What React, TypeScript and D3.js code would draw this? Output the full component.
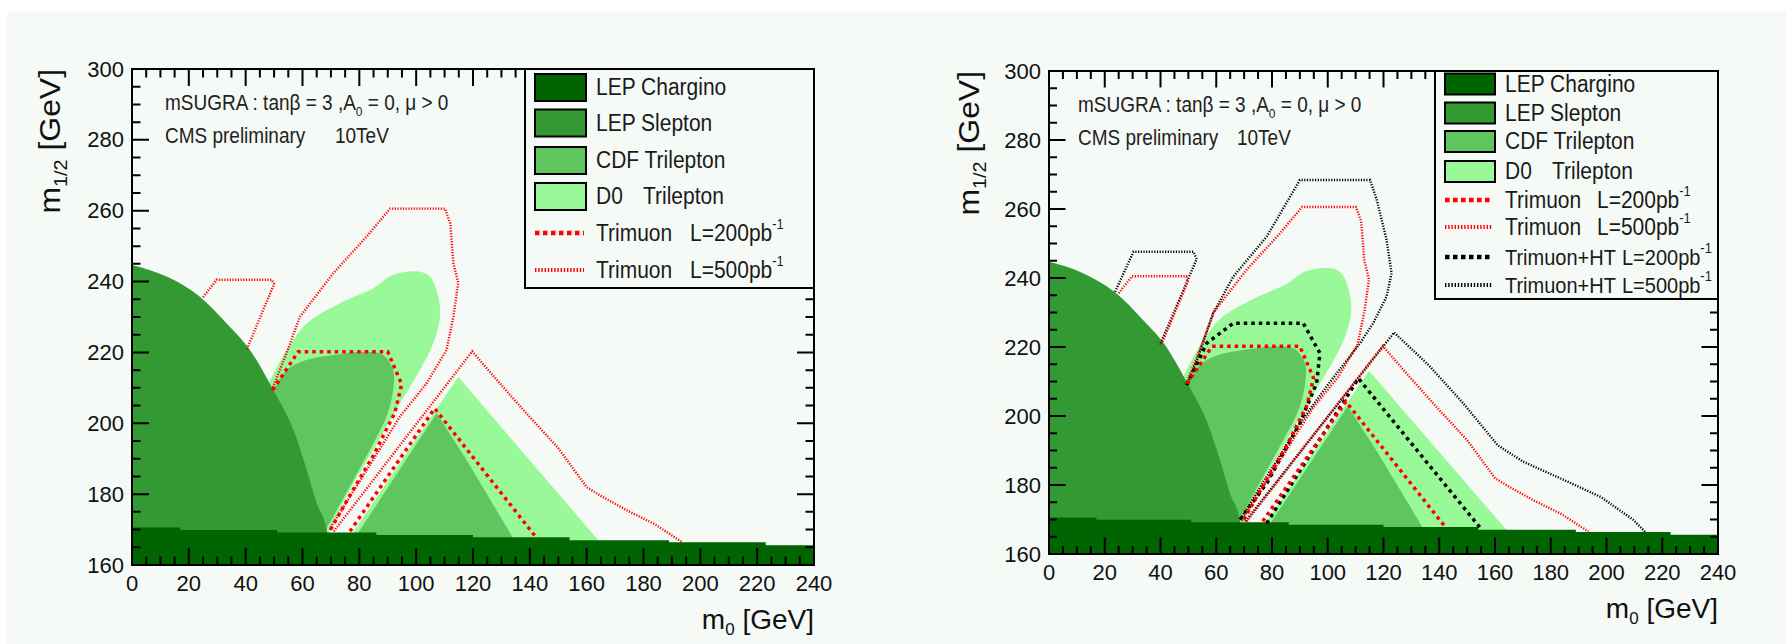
import React from 'react';
import * as d3 from 'd3';

type Pt = [number, number];

// axis ticks
const xTickValues = [0, 20, 40, 60, 80, 100, 120, 140, 160, 180, 200, 220, 240];
const yTickValues = [160, 180, 200, 220, 240, 260, 280, 300];

// LEP chargino limit: step edges in m0 and the m1/2 level of each step
const charginoEdges = [0, 17, 51, 86, 120, 154, 189, 223, 240];
const charginoLevels = [170.6, 169.9, 169.2, 168.5, 167.8, 167.0, 166.4, 165.6];

// LEP slepton limit, boundary read left to right (m0, m1/2)
const sleptonEdge: Pt[] = [
  [0, 244.7], [12.2, 241.4], [23.9, 235.7], [33.3, 228.2], [41.5, 220.7],
  [49.7, 209.4], [56.8, 198.1], [61.5, 186.8], [65, 177.4], [68.5, 169.9], [70, 158],
];
const cdfLobe: Pt[] = [
  [42, 200], [49.7, 209.4], [54.4, 215], [61.5, 217.9], [70.8, 219.3], [82.6, 220.2],
  [88.4, 219.3], [91.9, 215], [91.9, 209.4], [89.6, 201.9], [84.9, 194.3], [77.9, 184],
  [70.8, 173.6], [68.5, 169.9], [68.5, 158], [48, 158],
];
const cdfWedge: Pt[] = [[70.5, 158], [107.2, 202.8], [117.8, 189.6], [134.2, 167.5], [141.5, 158]];
const d0Lobe: Pt[] = [
  [40, 200], [48, 211.3], [54.4, 220.7], [61.5, 228.2], [73.2, 233.9], [84.9, 238.1],
  [91.9, 241.9], [101.3, 242.8], [104.9, 241.4], [107.8, 235.7], [108.4, 230.1], [106, 222.6],
  [101.3, 215], [94.3, 205.6], [84.9, 192.5], [76.7, 181.2], [70.8, 171.8], [69.6, 169.5],
  [69.6, 158], [45, 158],
];
const d0Wedge: Pt[] = [[68.3, 158], [114.8, 213.1], [164.1, 167], [173.7, 158]];

// Trimuon reach contours
const tri200Lobe: Pt[] = [
  [49.5, 209.4], [58.5, 220.2], [90, 220.2], [94.9, 211], [92.5, 203], [85, 191], [78, 181.5], [69.7, 169.8],
];
const tri200Wedge: Pt[] = [[76.7, 169.5], [106.5, 204.2], [142.2, 167.8]];
const tri500Small: Pt[] = [[25, 235.6], [29.8, 240.5], [49.2, 240.5], [50, 239.3], [40.3, 220.7]];
const tri500Lobe: Pt[] = [
  [49.2, 209.4], [54, 219], [59.1, 230.1], [70.8, 242.3], [82.6, 252.7], [90.8, 260.6],
  [110.1, 260.6], [112, 256.4], [113.1, 245.2], [114.8, 239.6], [113.1, 230.1], [110.7, 220.7],
  [103.7, 211.3], [94.3, 201.9], [82.6, 186.8], [70.8, 171.8], [69.6, 169.5],
];
const tri500Wedge: Pt[] = [
  [71, 169.5], [119.7, 220.3], [127, 213.5], [138, 203.5], [150, 193], [160, 182],
  [165, 179.5], [174, 175.5], [184, 171.5], [193.5, 166.5],
];

// Trimuon+HT reach contours
const ht200Lobe: Pt[] = [
  [49.4, 209], [56.6, 221.1], [66.1, 226.9], [91.2, 226.9], [97.2, 218.2], [96, 209.5],
  [90, 197.9], [78.1, 180.5], [68.5, 169.9],
];
const ht200Wedge: Pt[] = [[78.1, 168.9], [111, 210.9], [155, 167.3]];
const ht500Small: Pt[] = [[23.7, 236], [30.3, 247.6], [51.8, 247.6], [53, 245.5], [39.8, 220.6]];
const ht500Lobe: Pt[] = [
  [49.4, 209], [53, 216], [58.9, 229.8], [66.1, 240.4], [78.1, 252], [90, 268.4],
  [115.2, 268.4], [117.6, 262.6], [121.1, 251], [122.9, 241.4], [121.1, 234.6], [116.3, 226.9],
  [111.6, 221.1], [100, 209], [90, 197.9], [78.1, 182.4], [68.5, 169.9],
];
const ht500Wedge: Pt[] = [
  [70.5, 169.5], [123.8, 224.2], [136.5, 214.5], [148.5, 203.8], [161, 191.5], [170, 186.8],
  [186, 181], [198, 176.5], [209.6, 169.9], [214, 166.3],
];

const C_CHARGINO = '#006400';
const C_SLEPTON = '#339933';
const C_CDF = '#5fc65f';
const C_D0 = '#99f999';
const BG = '#f6faf6';
const FONT = 'Liberation Sans, Arial, Helvetica, sans-serif';

const thick = { w: 3.5, dash: '3.5,4' };
const fine = { w: 2.4, dash: '1.2,1.5' };

interface LegendRow {
  kind: 'fill' | 'line';
  color: string;
  label: string;
  lumi?: string;
  style?: { w: number; dash: string };
}

interface PanelCfg {
  id: string;
  left: number; top: number; right: number; bottom: number;
  major: number; minor: number;
  yTitleX: number;
  infoDx: number; tevDx: number;
  legX: number; legBottom: number;
  swX0: number; swX1: number; swH: number;
  textX: number; lumiX: number; htLumiX: number; trilepX: number;
  rows: number[];
  entries: LegendRow[];
  withHT: boolean;
}

const baseEntries: LegendRow[] = [
  { kind: 'fill', color: C_CHARGINO, label: 'LEP Chargino' },
  { kind: 'fill', color: C_SLEPTON, label: 'LEP Slepton' },
  { kind: 'fill', color: C_CDF, label: 'CDF Trilepton' },
  { kind: 'fill', color: C_D0, label: 'D0' },
  { kind: 'line', color: '#ff0000', label: 'Trimuon', lumi: '200', style: { w: 4.5, dash: '4.5,3.5' } },
  { kind: 'line', color: '#ff0000', label: 'Trimuon', lumi: '500', style: { w: 4, dash: '1.4,1.8' } },
];

const panels: PanelCfg[] = [
  {
    id: 'a', left: 132, top: 69, right: 814, bottom: 565, major: 17, minor: 8.5,
    yTitleX: 60, infoDx: 33, tevDx: 203,
    legX: 525, legBottom: 288, swX0: 535, swX1: 586, swH: 27,
    textX: 596, lumiX: 690, htLumiX: 0, trilepX: 643,
    rows: [87.5, 123, 160.5, 196.5, 233, 270],
    entries: baseEntries, withHT: false,
  },
  {
    id: 'b', left: 1049, top: 71, right: 1718, bottom: 554, major: 16.5, minor: 8,
    yTitleX: 979, infoDx: 29, tevDx: 188,
    legX: 1435, legBottom: 299, swX0: 1445, swX1: 1495, swH: 21,
    textX: 1505, lumiX: 1597, htLumiX: 1622, trilepX: 1552,
    rows: [84, 113, 141.5, 171.5, 200, 227, 257, 285],
    entries: [
      ...baseEntries,
      { kind: 'line', color: '#000', label: 'Trimuon+HT', lumi: '200', style: { w: 4.5, dash: '4.5,3.5' } },
      { kind: 'line', color: '#000', label: 'Trimuon+HT', lumi: '500', style: { w: 4, dash: '1.4,1.8' } },
    ],
    withHT: true,
  },
];

// text that is a little taller than wide, like the stretched original
const Tall: React.FC<{ x: number; y: number; size: number; fill?: string; children: React.ReactNode }> =
  ({ x, y, size, fill = '#1a1a1a', children }) => (
    <text transform={`translate(${x},${y}) scale(1,1.12)`} dominantBaseline="central" fontSize={size} fill={fill}>
      {children}
    </text>
  );

const Panel: React.FC<{ cfg: PanelCfg }> = ({ cfg }) => {
  const x = d3.scaleLinear().domain([0, 240]).range([cfg.left, cfg.right]);
  const y = d3.scaleLinear().domain([160, 300]).range([cfg.bottom, cfg.top]);
  const line = d3.line<Pt>().x(d => x(d[0])).y(d => y(d[1]));
  const smooth = d3.line<Pt>().x(d => x(d[0])).y(d => y(d[1])).curve(d3.curveCatmullRom.alpha(0.5));
  const poly = (pts: Pt[]) => (line(pts) || '') + 'Z';
  const blob = (pts: Pt[]) => (smooth(pts) || '') + 'Z';

  const charginoPts: Pt[] = [];
  charginoLevels.forEach((lv, i) => {
    charginoPts.push([charginoEdges[i], lv], [charginoEdges[i + 1], lv]);
  });
  charginoPts.push([240, 158], [0, 158]);

  const sleptonPath = `M${x(0)},${y(158)}L${x(0)},${y(sleptonEdge[0][1])}` +
    (d3.line<Pt>().x(d => x(d[0])).y(d => y(d[1])).curve(d3.curveMonotoneX)(sleptonEdge) || '').replace(/^M/, 'L') + 'Z';

  const xMinor = d3.range(0, 240.01, 5);
  const yMinor = d3.range(160, 300.01, 5);
  const clip = `clip-${cfg.id}`;

  const contour = (pts: Pt[], color: string, st: { w: number; dash: string }, k: string) => (
    <path key={k} d={line(pts) || ''} fill="none" stroke={color} strokeWidth={st.w}
      strokeDasharray={st.dash} />
  );

  const tickPath: string[] = [];
  xMinor.forEach(v => {
    const len = v % 20 === 0 ? cfg.major : cfg.minor;
    tickPath.push(`M${x(v)},${cfg.bottom}v${-len}`, `M${x(v)},${cfg.top}v${len}`);
  });
  yMinor.forEach(v => {
    const len = v % 20 === 0 ? cfg.major : cfg.minor;
    tickPath.push(`M${cfg.left},${y(v)}h${len}`, `M${cfg.right},${y(v)}h${-len}`);
  });

  return (
    <g fontFamily={FONT}>
      <defs>
        <clipPath id={clip}>
          <rect x={cfg.left} y={cfg.top} width={cfg.right - cfg.left} height={cfg.bottom - cfg.top} />
        </clipPath>
      </defs>
      <g clipPath={`url(#${clip})`}>
        <path d={blob(d0Lobe)} fill={C_D0} />
        <path d={poly(d0Wedge)} fill={C_D0} />
        <path d={blob(cdfLobe)} fill={C_CDF} />
        <path d={poly(cdfWedge)} fill={C_CDF} />
        <path d={sleptonPath} fill={C_SLEPTON} />
        <path d={poly(charginoPts)} fill={C_CHARGINO} />
        {cfg.withHT && [
          contour(ht500Small, '#000', fine, 'h1'),
          contour(ht500Lobe, '#000', fine, 'h2'),
          contour(ht500Wedge, '#000', fine, 'h3'),
          contour(ht200Lobe, '#000', thick, 'h4'),
          contour(ht200Wedge, '#000', thick, 'h5'),
        ]}
        {contour(tri500Small, '#ff0000', fine, 'r1')}
        {contour(tri500Lobe, '#ff0000', fine, 'r2')}
        {contour(tri500Wedge, '#ff0000', fine, 'r3')}
        {contour(tri200Lobe, '#ff0000', thick, 'r4')}
        {contour(tri200Wedge, '#ff0000', thick, 'r5')}
      </g>

      <path d={tickPath.join('')} stroke="#000" strokeWidth={2} fill="none" />
      <rect x={cfg.left} y={cfg.top} width={cfg.right - cfg.left} height={cfg.bottom - cfg.top}
        fill="none" stroke="#000" strokeWidth={2} />

      {xTickValues.map(v => (
        <text key={`xt${v}`} x={x(v)} y={cfg.bottom + 26} textAnchor="middle" fontSize={22} fill="#111">{v}</text>
      ))}
      {yTickValues.map(v => (
        <text key={`yt${v}`} x={cfg.left - 8} y={y(v)} textAnchor="end" dominantBaseline="central"
          fontSize={22} fill="#111">{v}</text>
      ))}

      <text x={cfg.right} y={cfg.bottom + 64} textAnchor="end" fontSize={28} fill="#111">
        m<tspan dy={6} fontSize={17}>0</tspan><tspan dy={-6}> [GeV]</tspan>
      </text>
      <text transform={`translate(${cfg.yTitleX},${cfg.top}) rotate(-90) scale(1.1,1)`} textAnchor="end" fontSize={29} fill="#111">
        m<tspan dy={7} fontSize={18}>1/2</tspan><tspan dy={-7}> [GeV]</tspan>
      </text>

      <Tall x={cfg.left + cfg.infoDx} y={cfg.top + 34} size={19} fill="#222">
        mSUGRA : tanβ = 3 ,A<tspan dy={7} fontSize={12}>0</tspan><tspan dy={-7}> = 0, μ &gt; 0</tspan>
      </Tall>
      <Tall x={cfg.left + cfg.infoDx} y={cfg.top + 67} size={19} fill="#222">CMS preliminary</Tall>
      <Tall x={cfg.left + cfg.tevDx} y={cfg.top + 67} size={19} fill="#222">10TeV</Tall>

      <rect x={cfg.legX} y={cfg.top} width={cfg.right - cfg.legX} height={cfg.legBottom - cfg.top}
        fill={BG} stroke="#000" strokeWidth={2} />
      {cfg.entries.map((e, i) => {
        const cy = cfg.rows[i];
        const lumiX = e.label === 'Trimuon' ? cfg.lumiX : cfg.htLumiX;
        return (
          <g key={`lg${i}`}>
            {e.kind === 'fill' ? (
              <rect x={cfg.swX0} y={cy - cfg.swH / 2} width={cfg.swX1 - cfg.swX0} height={cfg.swH}
                fill={e.color} stroke="#000" strokeWidth={2} />
            ) : (
              <line x1={cfg.swX0} x2={cfg.swX1 - 2} y1={cy} y2={cy} stroke={e.color}
                strokeWidth={e.style!.w} strokeDasharray={e.style!.dash} />
            )}
            <Tall x={cfg.textX} y={cy} size={e.label === 'Trimuon+HT' ? 20 : 21}>{e.label}</Tall>
            {e.label === 'D0' && <Tall x={cfg.trilepX} y={cy} size={21}>Trilepton</Tall>}
            {e.lumi && (
              <Tall x={lumiX} y={cy} size={e.label === 'Trimuon+HT' ? 20 : 21}>
                {`L=${e.lumi}pb`}<tspan dy={-8} fontSize={13}>-1</tspan>
              </Tall>
            )}
          </g>
        );
      })}
    </g>
  );
};

const App: React.FC = () => (
  <svg width={1786} height={644} style={{ position: 'absolute', left: 0, top: 0, display: 'block' }}>
    <rect x={0} y={0} width={1786} height={644} fill="#ffffff" />
    <rect x={7} y={12} width={1779} height={632} fill={BG} />
    {panels.map(p => <Panel key={p.id} cfg={p} />)}
  </svg>
);

export default App;
